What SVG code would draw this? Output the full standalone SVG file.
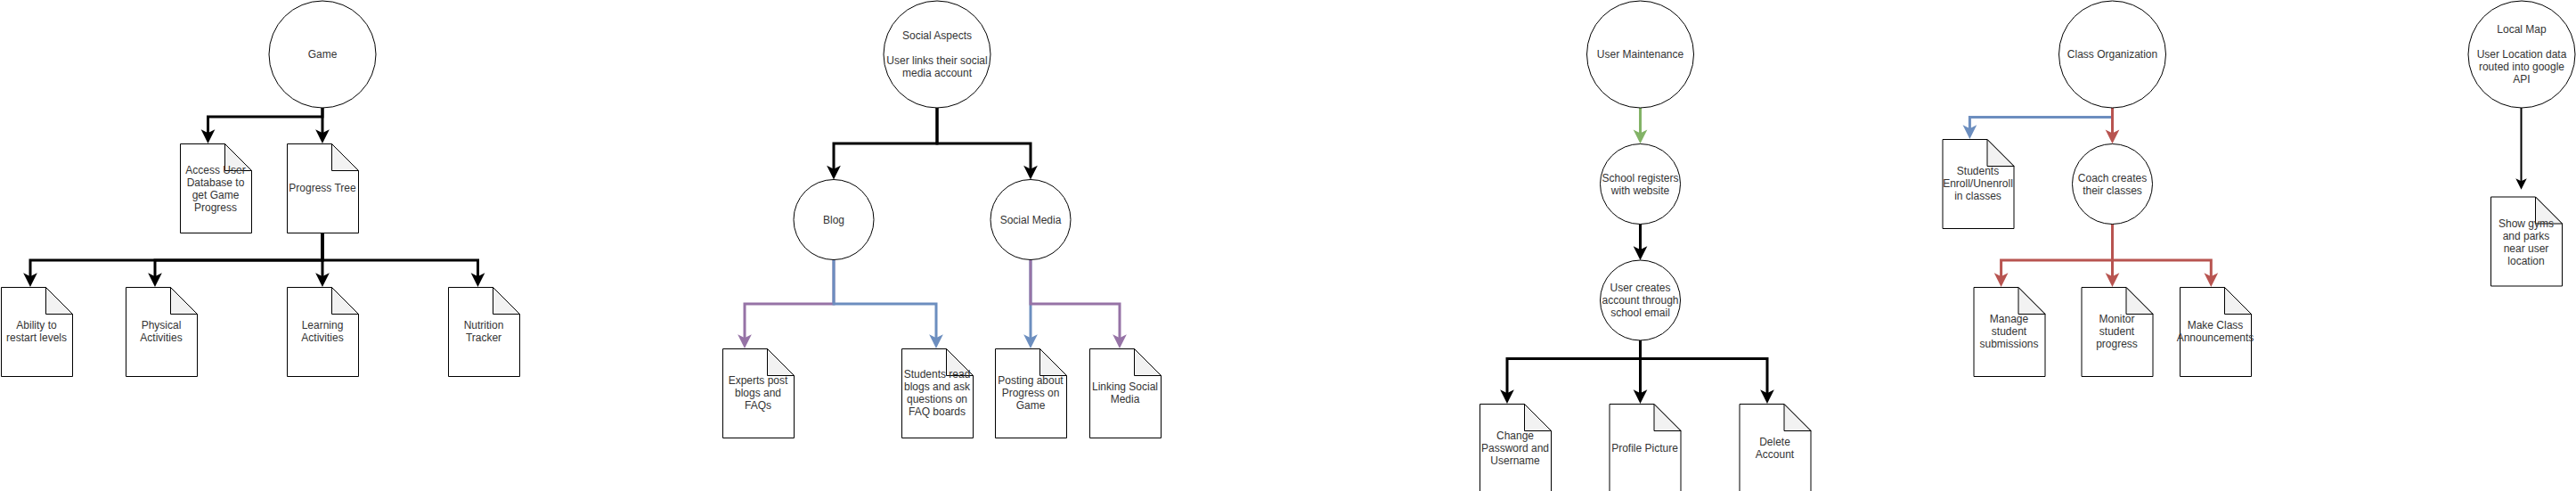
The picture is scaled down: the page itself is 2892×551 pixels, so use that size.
<svg xmlns="http://www.w3.org/2000/svg" xmlns:xlink="http://www.w3.org/1999/xlink" width="2892" height="551" viewBox="0 0 2892 551">
<style>
.c{fill:#fff;stroke:#000;stroke-width:1}
.t{font-family:"Liberation Sans",Arial,Helvetica,sans-serif;font-size:12px;fill:#333;text-anchor:middle}
.e{fill:none;stroke-width:3;stroke-linejoin:miter}
.k{stroke:#000}
.b{stroke:#6C8EBF}
.p{stroke:#9673A6}
.r{stroke:#B85450}
.g{stroke:#82B366}
</style>
<defs>
<symbol id="note" overflow="visible">
<path d="M0.5,0.5 H50.5 L80.5,30.5 V100.5 H0.5 Z" fill="#fff" stroke="#000" stroke-width="1"/>
<path d="M50.5,0.5 V30.5 H80.5 Z" fill="#F2F2F2" stroke="#000" stroke-width="1"/>
</symbol>
<marker id="ak" markerUnits="userSpaceOnUse" orient="auto" refX="0" refY="0" overflow="visible"><path d="M6.75,0 L-2.25,-4.5 L0,0 L-2.25,4.5 Z" fill="#000" stroke="#000" stroke-width="3"/></marker>
<marker id="ab" markerUnits="userSpaceOnUse" orient="auto" refX="0" refY="0" overflow="visible"><path d="M6.75,0 L-2.25,-4.5 L0,0 L-2.25,4.5 Z" fill="#6C8EBF" stroke="#6C8EBF" stroke-width="3"/></marker>
<marker id="ap" markerUnits="userSpaceOnUse" orient="auto" refX="0" refY="0" overflow="visible"><path d="M6.75,0 L-2.25,-4.5 L0,0 L-2.25,4.5 Z" fill="#9673A6" stroke="#9673A6" stroke-width="3"/></marker>
<marker id="ar" markerUnits="userSpaceOnUse" orient="auto" refX="0" refY="0" overflow="visible"><path d="M6.75,0 L-2.25,-4.5 L0,0 L-2.25,4.5 Z" fill="#B85450" stroke="#B85450" stroke-width="3"/></marker>
<marker id="ag" markerUnits="userSpaceOnUse" orient="auto" refX="0" refY="0" overflow="visible"><path d="M6.75,0 L-2.25,-4.5 L0,0 L-2.25,4.5 Z" fill="#82B366" stroke="#82B366" stroke-width="3"/></marker>
<marker id="ak2" markerUnits="userSpaceOnUse" orient="auto" refX="0" refY="0" overflow="visible"><path d="M6,0 L-2,-4 L0,0 L-2,4 Z" fill="#000" stroke="#000" stroke-width="2"/></marker>
</defs>
<rect width="2892" height="551" fill="#fff"/>

<g id="connectors">
<!-- Game -->
<path class="e k" d="M362,121 V131 H233.5 V150.9" marker-end="url(#ak)"/>
<path class="e k" d="M362,121 V150.9" marker-end="url(#ak)"/>
<path class="e k" d="M362,262 V292 H34 V311.9" marker-end="url(#ak)"/>
<path class="e k" d="M362,262 V292 H174 V311.9" marker-end="url(#ak)"/>
<path class="e k" d="M362,262 V311.9" marker-end="url(#ak)"/>
<path class="e k" d="M362,262 V292 H536.5 V311.9" marker-end="url(#ak)"/>
<!-- Social -->
<path class="e k" d="M1052,121 V161 H936 V191.4" marker-end="url(#ak)"/>
<path class="e k" d="M1052,121 V161 H1157 V191.4" marker-end="url(#ak)"/>
<path class="e p" d="M936,291.5 V341 H836 V380.9" marker-end="url(#ap)"/>
<path class="e b" d="M936,291.5 V341 H1051 V380.9" marker-end="url(#ab)"/>
<path class="e b" d="M1157,291.5 V380.9" marker-end="url(#ab)"/>
<path class="e p" d="M1157,291.5 V341 H1257 V380.9" marker-end="url(#ap)"/>
<!-- User Maintenance -->
<path class="e g" d="M1841.5,121 V151.2" marker-end="url(#ag)"/>
<path class="e k" d="M1841.5,251.5 V281.9" marker-end="url(#ak)"/>
<path class="e k" d="M1841.5,382 V402.5 H1692 V442.9" marker-end="url(#ak)"/>
<path class="e k" d="M1841.5,382 V442.9" marker-end="url(#ak)"/>
<path class="e k" d="M1841.5,382 V402.5 H1984 V442.9" marker-end="url(#ak)"/>
<!-- Class Organization -->
<path class="e b" d="M2371.5,121 V131.4 H2211.4 V145.9" marker-end="url(#ab)"/>
<path class="e r" d="M2371.5,121 V151.2" marker-end="url(#ar)"/>
<path class="e r" d="M2371.5,251.5 V292 H2246.6 V311.9" marker-end="url(#ar)"/>
<path class="e r" d="M2371.5,251.5 V311.9" marker-end="url(#ar)"/>
<path class="e r" d="M2371.5,251.5 V292 H2482.3 V311.9" marker-end="url(#ar)"/>
<!-- Local Map -->
<path class="e k" style="stroke-width:2" d="M2830.5,121 V204.5" marker-end="url(#ak2)"/>
</g>

<!-- Game section -->
<g id="game"><circle class="c" cx="362" cy="61" r="60"/><text class="t" x="362" y="65">Game</text></g>
<g id="access-user-db"><use href="#note" x="202" y="161"/><text class="t" x="242" y="195">Access User</text><text class="t" x="242" y="209">Database to</text><text class="t" x="242" y="223">get Game</text><text class="t" x="242" y="237">Progress</text></g>
<g id="progress-tree"><use href="#note" x="322" y="161"/><text class="t" x="362" y="215">Progress Tree</text></g>
<g id="ability-restart"><use href="#note" x="1" y="322"/><text class="t" x="41" y="369">Ability to</text><text class="t" x="41" y="383">restart levels</text></g>
<g id="physical-activities"><use href="#note" x="141" y="322"/><text class="t" x="181" y="369">Physical</text><text class="t" x="181" y="383">Activities</text></g>
<g id="learning-activities"><use href="#note" x="322" y="322"/><text class="t" x="362" y="369">Learning</text><text class="t" x="362" y="383">Activities</text></g>
<g id="nutrition-tracker"><use href="#note" x="503" y="322"/><text class="t" x="543" y="369">Nutrition</text><text class="t" x="543" y="383">Tracker</text></g>

<!-- Social section -->
<g id="social-aspects"><circle class="c" cx="1052" cy="61" r="60"/><text class="t" x="1052" y="44">Social Aspects</text><text class="t" x="1052" y="72">User links their social</text><text class="t" x="1052" y="86">media account</text></g>
<g id="blog"><circle class="c" cx="936" cy="246.5" r="45"/><text class="t" x="936" y="250.5">Blog</text></g>
<g id="social-media"><circle class="c" cx="1157" cy="246.5" r="45"/><text class="t" x="1157" y="250.5">Social Media</text></g>
<g id="experts-post"><use href="#note" x="811" y="391"/><text class="t" x="851" y="431">Experts post</text><text class="t" x="851" y="445">blogs and</text><text class="t" x="851" y="459">FAQs</text></g>
<g id="students-read"><use href="#note" x="1012" y="391"/><text class="t" x="1052" y="424">Students read</text><text class="t" x="1052" y="438">blogs and ask</text><text class="t" x="1052" y="452">questions on</text><text class="t" x="1052" y="466">FAQ boards</text></g>
<g id="posting-progress"><use href="#note" x="1117" y="391"/><text class="t" x="1157" y="431">Posting about</text><text class="t" x="1157" y="445">Progress on</text><text class="t" x="1157" y="459">Game</text></g>
<g id="linking-social"><use href="#note" x="1223" y="391"/><text class="t" x="1263" y="438">Linking Social</text><text class="t" x="1263" y="452">Media</text></g>

<!-- User Maintenance section -->
<g id="user-maintenance"><circle class="c" cx="1841.5" cy="61" r="60"/><text class="t" x="1841.5" y="65">User Maintenance</text></g>
<g id="school-registers"><circle class="c" cx="1841.5" cy="206.5" r="45"/><text class="t" x="1841.5" y="203.5">School registers</text><text class="t" x="1841.5" y="217.5">with website</text></g>
<g id="user-creates"><circle class="c" cx="1841.5" cy="337" r="45"/><text class="t" x="1841.5" y="327">User creates</text><text class="t" x="1841.5" y="341">account through</text><text class="t" x="1841.5" y="355">school email</text></g>
<g id="change-password"><use href="#note" x="1661" y="453"/><text class="t" x="1701" y="493">Change</text><text class="t" x="1701" y="507">Password and</text><text class="t" x="1701" y="521">Username</text></g>
<g id="profile-picture"><use href="#note" x="1806.5" y="453"/><text class="t" x="1846.5" y="507">Profile Picture</text></g>
<g id="delete-account"><use href="#note" x="1952.5" y="453"/><text class="t" x="1992.5" y="500">Delete</text><text class="t" x="1992.5" y="514">Account</text></g>

<!-- Class Organization section -->
<g id="class-organization"><circle class="c" cx="2371.5" cy="61" r="60"/><text class="t" x="2371.5" y="65">Class Organization</text></g>
<g id="students-enroll"><use href="#note" x="2180.5" y="156"/><text class="t" x="2220.5" y="196">Students</text><text class="t" x="2220.5" y="210">Enroll/Unenroll</text><text class="t" x="2220.5" y="224">in classes</text></g>
<g id="coach-creates"><circle class="c" cx="2371.5" cy="206.5" r="45"/><text class="t" x="2371.5" y="203.5">Coach creates</text><text class="t" x="2371.5" y="217.5">their classes</text></g>
<g id="manage-submissions"><use href="#note" x="2215.5" y="322"/><text class="t" x="2255.5" y="362">Manage</text><text class="t" x="2255.5" y="376">student</text><text class="t" x="2255.5" y="390">submissions</text></g>
<g id="monitor-progress"><use href="#note" x="2336.5" y="322"/><text class="t" x="2376.5" y="362">Monitor</text><text class="t" x="2376.5" y="376">student</text><text class="t" x="2376.5" y="390">progress</text></g>
<g id="make-announcements"><use href="#note" x="2447" y="322"/><text class="t" x="2487" y="369">Make Class</text><text class="t" x="2487" y="383">Announcements</text></g>

<!-- Local Map section -->
<g id="local-map"><circle class="c" cx="2831" cy="61" r="60"/><text class="t" x="2831" y="37">Local Map</text><text class="t" x="2831" y="65">User Location data</text><text class="t" x="2831" y="79">routed into google</text><text class="t" x="2831" y="93">API</text></g>
<g id="show-gyms"><use href="#note" x="2796" y="220.5"/><text class="t" x="2836" y="254.5">Show gyms</text><text class="t" x="2836" y="268.5">and parks</text><text class="t" x="2836" y="282.5">near user</text><text class="t" x="2836" y="296.5">location</text></g>
</svg>
